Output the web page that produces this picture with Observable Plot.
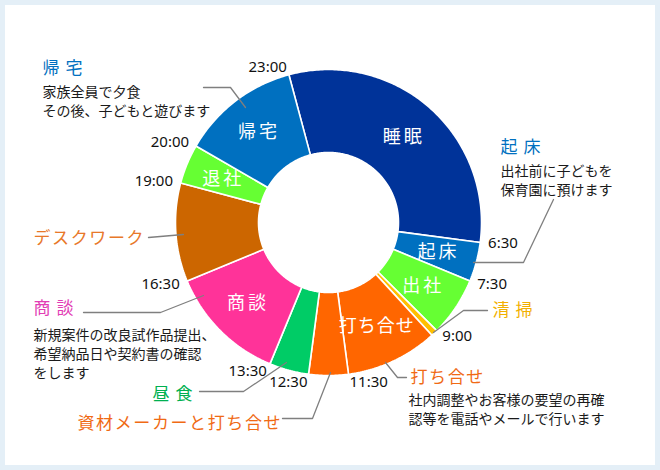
<!DOCTYPE html>
<html><head><meta charset="utf-8">
<script src="https://cdn.jsdelivr.net/npm/d3@7"></script>
<script src="https://cdn.jsdelivr.net/npm/@observablehq/plot@0.6"></script>
<style>
html,body{margin:0;padding:0;background:#E4EFF7;}
#wrap{position:relative;width:660px;height:470px;background:#E4EFF7;overflow:hidden}
#panel{position:absolute;left:5px;top:5px;width:650px;height:460px;background:#fff}
#chart{position:absolute;left:0;top:0}
</style></head><body>
<div id="wrap"><div id="panel"></div><div id="chart"></div></div>
<script>
// ---- data ----
const activities = ["睡眠","起床","出社","清掃","打ち合せ","資材メーカーと打ち合せ","昼食","商談","デスクワーク","退社","帰宅"];
const startTimes = ["23:00","6:30","7:30","9:00","9:10","11:30","12:30","13:30","16:30","19:00","20:00"];
const endTimes   = ["6:30","7:30","9:00","9:10","11:30","12:30","13:30","16:30","19:00","20:00","23:00"];
const ringLabels = ["睡眠","起床","出社","","打ち合せ","","","商談","","退社","帰宅"];
const tickLabels = ["6:30","7:30","9:00","11:30","12:30","13:30","16:30","19:00","20:00","23:00"];
const noteTitles = ["帰宅","起床","清掃","打ち合せ","資材メーカーと打ち合せ","昼食","商談","デスクワーク"];
const noteBodies = [
  "家族全員で夕食\nその後、子どもと遊びます",
  "出社前に子どもを\n保育園に預けます",
  "",
  "社内調整やお客様の要望の再確\n認等を電話やメールで行います",
  "",
  "",
  "新規案件の改良試作品提出、\n希望納品日や契約書の確認\nをします",
  ""
];

// ---- styles ----
const segmentColors = ["#003399","#0070C0","#66FF33","#FFC000","#FF6600","#FF6600","#00CC66","#FF3399","#CC6600","#66FF33","#0070C0"];
const noteColors = ["#0070C0","#0070C0","#F2B000","#F06A14","#F06A14","#00B050","#E23DB5","#E8782A"];

// ---- layout (pixels) ----
const cx = 328, cy = 222, rIn = 70, rOut = 153;
const noteLayout = [
  {tx:42,  ty:68,  bx:42,  by:100, leader:[[203,87],[230,87],[245,107]]},
  {tx:500, ty:147, bx:500, by:179, leader:[[553,199],[523,262],[473,262]]},
  {tx:492, ty:310, leader:[[487,310],[463,310],[433,332]]},
  {tx:410, ty:377, bx:408, by:408, leader:[[406,377],[397,377],[385,362]]},
  {tx:77,  ty:423, leader:[[282,418],[312,418],[330,372]]},
  {tx:152, ty:394, leader:[[199,391],[243,391],[286,362]]},
  {tx:33,  ty:308, bx:33,  by:352, leader:[[83,312],[160,312],[203,295]]},
  {tx:33,  ty:238, leader:[[148,237],[183,234]]}
];

const FONT = "'Noto Sans CJK JP', 'Noto Sans', sans-serif";

function toHours(s){const [h,m]=s.split(":").map(Number);return h+m/60;}
function pt(h,r){const a=h/24*2*Math.PI;return {x:cx+r*Math.sin(a),y:cy-r*Math.cos(a)};}

const segments = activities.map((name,i)=>{
  let s=toHours(startTimes[i]), e=toHours(endTimes[i]);
  if(e<=s) e+=24;
  return {name,s,e,color:segmentColors[i],label:ringLabels[i]};
});

const polyPts=[];
segments.forEach((g,i)=>{
  const n=Math.max(2,Math.ceil((g.e-g.s)/0.05));
  const pts=[];
  for(let k=0;k<=n;k++) pts.push(pt(g.s+(g.e-g.s)*k/n,rOut));
  for(let k=n;k>=0;k--) pts.push(pt(g.s+(g.e-g.s)*k/n,rIn));
  pts.push(pts[0]);
  pts.forEach(p=>polyPts.push({id:i,x:p.x,y:p.y,color:g.color}));
});

const ringPts = segments.filter(g=>g.label).map(g=>({...pt((g.s+g.e)/2,114),label:g.label}));

const ticks = tickLabels.map(t=>{
  const h=toHours(t);const p=pt(h,rOut+8);
  return {...p,t,right:Math.sin(h/24*2*Math.PI)>0};
});

const notes = noteTitles.map((t,i)=>({title:t,body:noteBodies[i],color:noteColors[i],...noteLayout[i]}));
const leaderPts=[];
notes.forEach((n,i)=>n.leader.forEach(([x,y])=>leaderPts.push({id:i,x,y})));

const chart = Plot.plot({
  width:660,height:470,margin:0,
  x:{domain:[0,660],range:[0,660],axis:null},
  y:{domain:[0,470],range:[0,470],axis:null},
  style:{background:"transparent",overflow:"visible",fontFamily:FONT},
  marks:[
    Plot.line(polyPts,{x:"x",y:"y",z:"id",fill:"color",stroke:"#fff",strokeWidth:1.6,curve:"linear",strokeLinejoin:"miter"}),
    Plot.line(leaderPts,{x:"x",y:"y",z:"id",stroke:"#7F7F7F",strokeWidth:1.3,curve:"linear"}),
    Plot.text(ringPts,{x:"x",y:"y",text:"label",fill:"#fff",fontSize:18,fontFamily:FONT}),
    Plot.text(ticks.filter(d=>d.right),{x:"x",y:"y",text:"t",textAnchor:"start",fill:"#111",fontSize:15,fontFamily:"'Noto Sans', sans-serif"}),
    Plot.text(ticks.filter(d=>!d.right),{x:"x",y:"y",text:"t",textAnchor:"end",fill:"#111",fontSize:15,fontFamily:"'Noto Sans', sans-serif"}),
    Plot.text(notes,{x:"tx",y:"ty",text:"title",fill:"color",textAnchor:"start",fontSize:17,fontFamily:FONT}),
    Plot.text(notes.filter(d=>d.body),{x:"bx",y:"by",text:"body",fill:"#1a1a1a",textAnchor:"start",lineAnchor:"middle",lineHeight:1.36,fontSize:14,fontFamily:FONT})
  ]
});
document.getElementById("chart").appendChild(chart);
const titleSet = new Set(noteTitles);
chart.querySelectorAll("text").forEach(t=>{
  const s = t.textContent;
  const inRing = !!t.closest('g[fill="#fff"]') || t.getAttribute("fill") === "#fff";
  if (inRing) {
    t.setAttribute("letter-spacing", s.length<=2 ? "3" : "1");
  } else if (titleSet.has(s)) {
    t.setAttribute("letter-spacing", s.length<=2 ? "6" : "1.6");
  }
});
</script>
</body></html>
